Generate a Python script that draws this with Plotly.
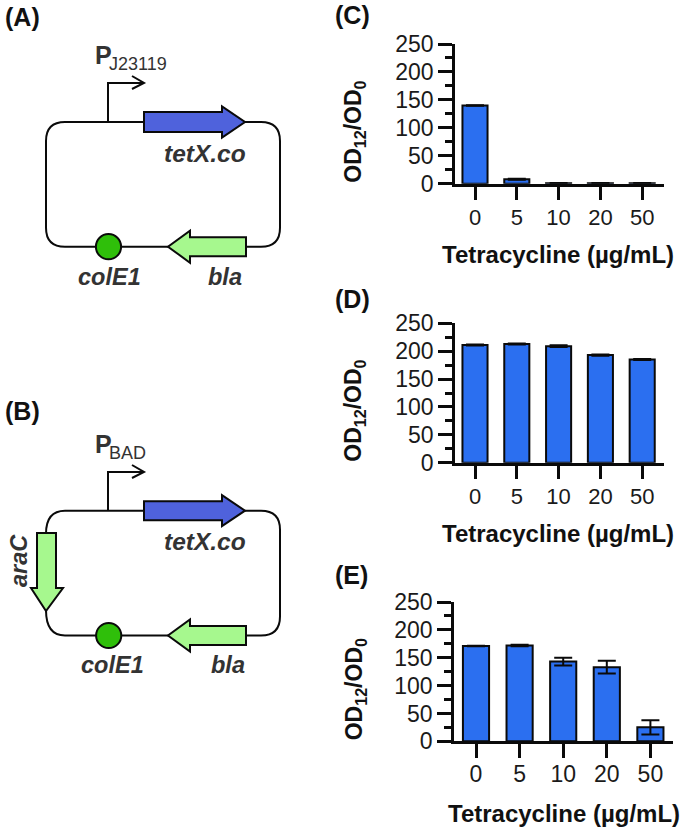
import plotly.graph_objects as go

W, H = 685, 829
FONT = "Liberation Sans, Arial, sans-serif"
DARK = "#333333"

categories = ["0", "5", "10", "20", "50"]
values_c = [140, 8, 1, 1, 1]
errors_c = [0.5, 1, 0.3, 0.3, 0.3]
values_d = [211, 213, 209, 193, 185]
errors_d = [0.8, 0.8, 1.5, 1, 1]
values_e = [171, 172, 143, 133, 25]
errors_e = [0.5, 1.2, 7, 11.5, 13]
y_ticks = [0, 50, 100, 150, 200, 250]

BAR = "#2b6ff0"
BLUE = "#4f62dc"
LIGHT = "#a6f88e"
GREEN = "#2fbf0a"

panels = [
    # suffix, values, errors, px left, px right, top(250), bottom(0), first tick, tick spacing, title x, title y
    ("", values_c, errors_c, 455, 664, 44.0, 183.7, 475, 41.8, 558, 254.5),
    ("2", values_d, errors_d, 455, 664, 323.3, 462.7, 475, 41.8, 558, 533),
    ("3", values_e, errors_e, 454, 673, 602.0, 741.3, 476, 43.6, 564, 813),
]

fig = go.Figure()
layout = dict(
    width=W, height=H, margin=dict(l=0, r=0, t=0, b=0, pad=0, autoexpand=False),
    paper_bgcolor="white", plot_bgcolor="rgba(0,0,0,0)", showlegend=False,
    font=dict(family=FONT, color="#1a1a1a"), bargap=0.4,
)
annotations, shapes = [], []


def text(x, y, s, size, bold=False, italic=False, color=DARK, angle=0, xanchor="center"):
    if italic:
        s = f"<i>{s}</i>"
    if bold:
        s = f"<b>{s}</b>"
    annotations.append(dict(
        x=x, y=y, xref="x4", yref="y4", text=s, showarrow=False, textangle=angle,
        xanchor=xanchor, yanchor="middle", font=dict(size=size, color=color, family=FONT),
    ))


for suf, vals, errs, xl, xr, yt, yb, t0, dt, tx, ty in panels:
    fig.add_trace(go.Bar(
        x=list(range(5)), y=vals, xaxis="x" + suf, yaxis="y" + suf, width=0.6,
        marker=dict(color=BAR, line=dict(color="#0a0a0a", width=2)),
        error_y=dict(type="data", array=errs, color="#0a0a0a", thickness=2, width=9, visible=True),
        cliponaxis=False,
    ))
    layout["xaxis" + suf] = dict(
        domain=[xl / W, xr / W], range=[(xl - t0) / dt, (xr - t0) / dt], anchor="y" + suf,
        tickmode="array", tickvals=list(range(5)), ticktext=categories,
        ticks="outside", ticklen=14, tickwidth=2.5, tickcolor="#0a0a0a",
        showline=True, linewidth=2.5, linecolor="#0a0a0a", showgrid=False, zeroline=False,
        tickfont=dict(size=23 if suf == "3" else 22, family=FONT, color="#1a1a1a"),
        ticklabelstandoff=-4 if suf == "3" else -2,
    )
    layout["yaxis" + suf] = dict(
        domain=[1 - yb / H, 1 - yt / H], range=[0, 250], anchor="x" + suf,
        tickmode="array", tickvals=y_ticks, ticks="outside", ticklen=14, tickwidth=2.5,
        tickcolor="#0a0a0a", showline=True, linewidth=2.5, linecolor="#0a0a0a",
        showgrid=False, zeroline=False, tickfont=dict(size=23, family=FONT, color="#1a1a1a"),
        minor=dict(dtick=25, ticks="outside", ticklen=7, tickwidth=2.5, tickcolor="#0a0a0a", showgrid=False),
    )
    text(355, yb - 52, "OD<sub>12</sub>/OD<sub>0</sub>", 23, bold=True, color="#111111", angle=-90)
    text(tx, ty, "Tetracycline (µg/mL)", 24, bold=True, color="#111111")

# overlay axis in picture pixels, for the two plasmid diagrams
layout["xaxis4"] = dict(domain=[0, 1], range=[0, W], visible=False, anchor="y4", fixedrange=True)
layout["yaxis4"] = dict(domain=[0, 1], range=[H, 0], visible=False, anchor="x4", fixedrange=True)


def shape_path(d, fill=None, lw=2.0, color="#0a0a0a"):
    shapes.append(dict(type="path", path=d, xref="x4", yref="y4",
                       line=dict(color=color, width=lw),
                       fillcolor=fill if fill else "rgba(0,0,0,0)"))


def loop(top, bot, left=46, right=280, r=19, left_gap=None):
    if left_gap is None:
        d = (f"M {left+r},{top} L {right-r},{top} Q {right},{top} {right},{top+r} "
             f"L {right},{bot-r} Q {right},{bot} {right-r},{bot} L {left+r},{bot} "
             f"Q {left},{bot} {left},{bot-r} L {left},{top+r} Q {left},{top} {left+r},{top}")
    else:
        d = (f"M {left},{top+r+4} Q {left},{top} {left+r},{top} L {right-r},{top} Q {right},{top} {right},{top+r} "
             f"L {right},{bot-r} Q {right},{bot} {right-r},{bot} L {left+r},{bot} "
             f"Q {left},{bot} {left},{left_gap}")
    shape_path(d)


def promoter(base, top):
    shape_path(f"M 108,{base} L 108,{top} L 144,{top}")
    shape_path(f"M 132,{top-7} L 144,{top} L 132,{top+6}")


def blue_arrow(cy, a, b):
    shape_path(f"M 144,{cy-a} L 222,{cy-a} L 222,{cy-b} L 245,{cy} L 222,{cy+b} L 222,{cy+a} L 144,{cy+a} Z", BLUE)


def bla_arrow(cy):
    shape_path(f"M 246,{cy-9.5} L 190,{cy-9.5} L 190,{cy-16} L 168,{cy} L 190,{cy+16} L 190,{cy+9.5} L 246,{cy+9.5} Z", LIGHT)


def circle(cx, cy, r=12.6):
    shapes.append(dict(type="circle", xref="x4", yref="y4", x0=cx - r, x1=cx + r, y0=cy - r, y1=cy + r,
                       fillcolor=GREEN, line=dict(color="#0a0a0a", width=2)))


# Panel A
loop(122, 246.7)
promoter(122, 83)
blue_arrow(122, 10, 15.5)
bla_arrow(246.7)
circle(108.5, 246.7)
# Panel B
loop(510.7, 635.5, left_gap=610)
promoter(510.7, 472)
blue_arrow(510.7, 9.5, 15.5)
bla_arrow(635.5)
circle(108.7, 635.5)
shape_path("M 37,533 L 56,533 L 56,588 L 63,588 L 46,611 L 31,588 L 37,588 Z", LIGHT)

# Panel letters
text(3, 17, "(A)", 25, bold=True, color="#111111", xanchor="left")
text(3, 411, "(B)", 25, bold=True, color="#111111", xanchor="left")
text(333, 15, "(C)", 25, bold=True, color="#111111", xanchor="left")
text(333, 299, "(D)", 25, bold=True, color="#111111", xanchor="left")
text(333, 575, "(E)", 25, bold=True, color="#111111", xanchor="left")

# Diagram labels A
text(93, 55, "P", 25, bold=True, xanchor="left")
text(107, 64, "J23119", 18, xanchor="left")
text(205, 153, "tetX.co", 24.5, bold=True, italic=True)
text(109, 277, "colE1", 23.5, bold=True, italic=True)
text(225, 277, "bla", 23.5, bold=True, italic=True)
# Diagram labels B
text(93, 444, "P", 25, bold=True, xanchor="left")
text(107, 453, "BAD", 18, xanchor="left")
text(205, 541, "tetX.co", 24.5, bold=True, italic=True)
text(112, 665, "colE1", 23.5, bold=True, italic=True)
text(228, 665, "bla", 23.5, bold=True, italic=True)
text(19, 561, "araC", 23.5, bold=True, italic=True, angle=-90)

# an invisible trace keeps the overlay axis alive
fig.add_trace(go.Scatter(x=[0], y=[0], xaxis="x4", yaxis="y4", mode="markers",
                         marker=dict(opacity=0), hoverinfo="skip"))

layout["annotations"] = annotations
layout["shapes"] = shapes
fig.update_layout(**layout)
fig.write_html("out.html", post_script="document.body.style.margin='0';",
               config={"displayModeBar": False})
